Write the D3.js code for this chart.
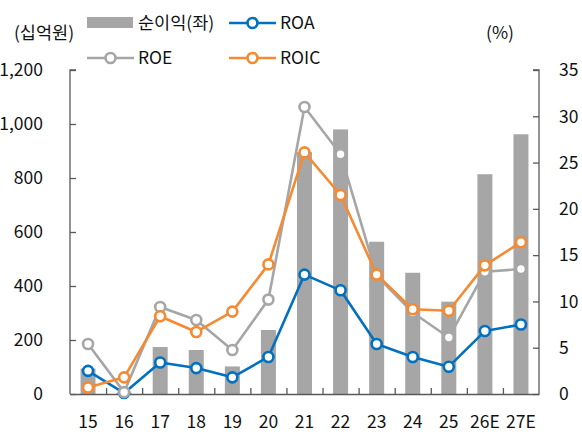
<!DOCTYPE html>
<html>
<head>
<meta charset="utf-8">
<script src="https://cdn.jsdelivr.net/npm/d3@7"></script>
<style>
  body { margin: 0; background: #fff; }
  svg text { font-family: "Noto Sans CJK KR", "Noto Sans", sans-serif; fill: #111; }
</style>
</head>
<body>
<svg id="chart" width="582" height="436"></svg>
<script>
// categories (years)
var years = ["15", "16", "17", "18", "19", "20", "21", "22", "23", "24", "25", "26E", "27E"];
// net income, left axis (십억원)
var netIncome = [94, 5, 174, 163, 102, 237, 896, 980, 564, 449, 342, 814, 962];
// ratios, right axis (%)
var roa = [2.5, 0.1, 3.4, 2.8, 1.8, 4.0, 12.9, 11.2, 5.4, 4.0, 2.95, 6.8, 7.5];
var roe = [5.4, 0.2, 9.4, 8.0, 4.75, 10.2, 31.0, 25.9, 12.8, 8.8, 6.1, 13.2, 13.5];
var roic = [0.7, 1.8, 8.4, 6.7, 8.9, 14.0, 26.1, 21.5, 12.9, 9.15, 9.0, 13.9, 16.4];

var leftTicks = [0, 200, 400, 600, 800, 1000, 1200];
var rightTicks = [0, 5, 10, 15, 20, 25, 30, 35];

var colors = {
  bar: "#a6a6a6",
  roa: "#0070c0",
  roe: "#a6a6a6",
  roic: "#f58a32",
  axis: "#595959"
};

var svg = d3.select("#chart");
var plotLeft = 70, plotRight = 539, plotTop = 70, plotBottom = 394;
var fontSize = 17.5;

var x = d3.scaleBand().domain(years).range([plotLeft, plotRight]);
var yL = d3.scaleLinear().domain([0, 1200]).range([plotBottom, plotTop]);
var yR = d3.scaleLinear().domain([0, 35]).range([plotBottom, plotTop]);

function cx(i){ return x(years[i]) + x.bandwidth()/2; }

// bars
var barW = 15;
svg.append("g").selectAll("rect")
  .data(netIncome)
  .enter().append("rect")
    .attr("x", function(d, i){ return cx(i) - barW/2; })
    .attr("y", function(d){ return yL(d); })
    .attr("width", barW)
    .attr("height", function(d){ return plotBottom - yL(d); })
    .attr("fill", colors.bar);

// axes
var gL = svg.append("g").attr("transform", "translate(" + plotLeft + ",0)")
  .call(d3.axisRight(yL).tickValues(leftTicks).tickSize(6).tickFormat(""));
var gR = svg.append("g").attr("transform", "translate(" + plotRight + ",0)")
  .call(d3.axisLeft(yR).tickValues(rightTicks).tickSize(6).tickFormat(""));

// bottom axis: ticks sit on the category boundaries
var boundaries = years.slice(1).map(function(d){ return x(d); });
var xb = d3.scaleLinear().domain([plotLeft, plotRight]).range([plotLeft, plotRight]);
var gB = svg.append("g").attr("transform", "translate(0," + plotBottom + ")")
  .call(d3.axisTop(xb).tickValues(boundaries).tickSize(6).tickSizeOuter(0).tickFormat(""));

[gL, gR, gB].forEach(function(g){
  g.selectAll("path, line").attr("stroke", colors.axis).attr("stroke-width", 1.3);
});
gL.select(".domain").attr("d", "M6," + plotTop + "H0V" + plotBottom);
gR.select(".domain").attr("d", "M-6," + plotTop + "H0V" + plotBottom);

// tick labels
svg.append("g").selectAll("text")
  .data(leftTicks)
  .enter().append("text")
    .attr("x", 43)
    .attr("y", function(d){ return yL(d); })
    .attr("dy", "0.36em")
    .attr("text-anchor", "end")
    .attr("font-size", fontSize)
    .text(function(d){ return d3.format(",")(d); });

svg.append("g").selectAll("text")
  .data(rightTicks)
  .enter().append("text")
    .attr("x", 559)
    .attr("y", function(d){ return yR(d); })
    .attr("dy", "0.36em")
    .attr("font-size", fontSize)
    .text(function(d){ return d; });

svg.append("g").selectAll("text")
  .data(years)
  .enter().append("text")
    .attr("x", function(d, i){ return cx(i); })
    .attr("y", 422)
    .attr("dy", "0.36em")
    .attr("text-anchor", "middle")
    .attr("font-size", fontSize)
    .text(function(d){ return d; });

svg.append("text").attr("x", 44).attr("y", 33).attr("dy", "0.36em")
  .attr("text-anchor", "middle").attr("font-size", fontSize).text("(십억원)");
svg.append("text").attr("x", 500).attr("y", 33).attr("dy", "0.36em")
  .attr("text-anchor", "middle").attr("font-size", fontSize).text("(%)");

// lines
function drawSeries(values, color){
  var line = d3.line()
    .x(function(d, i){ return cx(i); })
    .y(function(d){ return yR(d); });
  var g = svg.append("g");
  g.append("path")
    .datum(values)
    .attr("d", line)
    .attr("fill", "none")
    .attr("stroke", color)
    .attr("stroke-width", 2.6)
    .attr("stroke-linejoin", "round");
  g.selectAll("circle")
    .data(values)
    .enter().append("circle")
      .attr("cx", function(d, i){ return cx(i); })
      .attr("cy", function(d){ return yR(d); })
      .attr("r", 5)
      .attr("fill", "#fff")
      .attr("stroke", color)
      .attr("stroke-width", 2.6);
}
drawSeries(roa, colors.roa);
drawSeries(roe, colors.roe);
drawSeries(roic, colors.roic);

// legend
var legend = svg.append("g");
var items = [
  { label: "순이익(좌)", color: colors.bar, type: "bar", x: 87, y: 23 },
  { label: "ROA", color: colors.roa, type: "line", x: 229, y: 23 },
  { label: "ROE", color: colors.roe, type: "line", x: 87, y: 58 },
  { label: "ROIC", color: colors.roic, type: "line", x: 229, y: 58 }
];
items.forEach(function(it){
  if(it.type == "bar"){
    legend.append("rect")
      .attr("x", it.x).attr("y", it.y - 6)
      .attr("width", 46).attr("height", 11)
      .attr("fill", it.color);
  } else {
    legend.append("line")
      .attr("x1", it.x).attr("x2", it.x + 47)
      .attr("y1", it.y).attr("y2", it.y)
      .attr("stroke", it.color).attr("stroke-width", 2.6);
    legend.append("circle")
      .attr("cx", it.x + 23.5).attr("cy", it.y).attr("r", 5)
      .attr("fill", "#fff").attr("stroke", it.color).attr("stroke-width", 2.6);
  }
  legend.append("text")
    .attr("x", it.x + 51).attr("y", it.y)
    .attr("dy", "0.36em")
    .attr("font-size", fontSize)
    .text(it.label);
});
</script>
</body>
</html>
